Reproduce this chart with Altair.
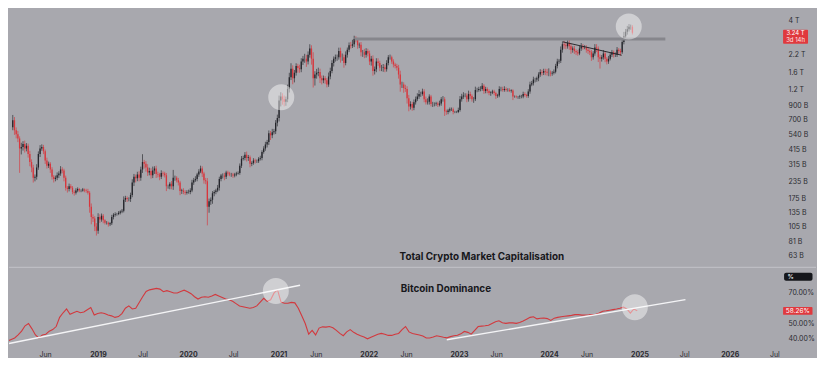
import altair as alt
import pandas as pd

# ---------------- data: Total crypto market cap, weekly candles (billions USD) ----------------
FIRST_OPEN = 610
CLOSE_2018 = [690, 580, 540, 500, 420, 430, 455, 420, 440, 380, 330, 300, 250,
              255, 300, 380, 420, 430, 400, 340, 310, 320, 290, 255, 245, 250,
              262, 270, 290, 285, 250, 210, 205, 215, 210, 195, 192, 200, 205,
              200, 200, 203, 200, 198, 192, 150, 125, 122, 106, 98, 125, 120]
CLOSE_2019 = [128, 118, 113, 113, 110, 112, 125, 130, 132, 132, 135, 138, 140,
              170, 175, 172, 172, 185, 230, 255, 248, 265, 250, 290, 330, 320,
              300, 275, 282, 262, 285, 295, 268, 265, 255, 272, 270, 262, 215,
              215, 225, 215, 250, 250, 240, 230, 198, 200, 195, 192, 195, 195]
CLOSE_2020 = [200, 230, 240, 245, 265, 280, 295, 270, 240, 235, 150, 165, 170,
              190, 195, 200, 210, 245, 260, 260, 255, 275, 270, 265, 265, 260,
              265, 270, 272, 310, 350, 355, 375, 355, 360, 320, 325, 340, 335,
              335, 350, 355, 395, 420, 450, 470, 550, 530, 560, 570, 660, 720]
CLOSE_2021 = [980, 1050, 1000, 960, 1000, 1200, 1480, 1720, 1450, 1600, 1800, 1740, 1700,
              1950, 2050, 2050, 1950, 2200, 2450, 2050, 1450, 1550, 1600, 1620, 1450, 1400,
              1450, 1400, 1300, 1500, 1650, 1900, 2050, 2100, 2100, 2350, 2100, 2100, 1900,
              2200, 2400, 2600, 2580, 2650, 2900, 2850, 2600, 2620, 2300, 2300, 2200, 2350]
CLOSE_2022 = [2250, 1950, 2050, 1650, 1700, 1950, 1900, 1750, 1750, 1760, 1700, 1900, 2100,
              2100, 1950, 1850, 1800, 1750, 1550, 1300, 1300, 1220, 1200, 1020, 880, 920,
              860, 950, 1000, 1050, 1100, 1100, 1150, 1000, 950, 960, 1050, 920, 920,
              920, 930, 910, 930, 1000, 1000, 810, 800, 820, 840, 840, 800, 800]
CLOSE_2023 = [800, 830, 1000, 1050, 1070, 1070, 1000, 1100, 1060, 1000, 1000, 1180, 1180,
              1200, 1200, 1270, 1160, 1200, 1160, 1120, 1130, 1150, 1120, 1060, 1070, 1200,
              1200, 1180, 1200, 1180, 1180, 1160, 1170, 1050, 1050, 1040, 1040, 1050, 1050,
              1100, 1080, 1060, 1150, 1300, 1330, 1420, 1420, 1450, 1550, 1620, 1600, 1650]
CLOSE_2024 = [1630, 1600, 1600, 1580, 1600, 1630, 1800, 1950, 1980, 2400, 2650, 2600, 2550,
              2700, 2550, 2400, 2450, 2350, 2300, 2250, 2450, 2550, 2500, 2500, 2400, 2350,
              2300, 2100, 2250, 2500, 2450, 2100, 2050, 2100, 2250, 2050, 1950, 2050, 2200,
              2300, 2200, 2200, 2400, 2350, 2300, 2750, 3050, 3300, 3450, 3600, 3600, 3240]

# upper / lower wick length, % beyond the candle body
HIGH_PCT = [10, 6, 5, 6, 4, 8, 5, 6, 5, 4, 6, 5, 5,
            4, 6, 5, 6, 5, 4, 3, 5, 4, 3, 4, 3, 4,
            5, 4, 6, 4, 3, 4, 3, 5, 4, 3, 3, 4, 3,
            2, 2, 3, 2, 3, 4, 3, 6, 5, 4, 6, 7, 5,
            4, 3, 2, 3, 2, 2, 4, 3, 3, 2, 3, 2, 3,
            6, 4, 3, 3, 4, 6, 5, 4, 5, 6, 5, 15, 4,
            5, 6, 6, 5, 7, 4, 5, 4, 3, 5, 3, 3, 4,
            3, 3, 5, 15, 4, 3, 4, 3, 3, 4, 3, 3, 4,
            4, 5, 4, 5, 3, 4, 5, 4, 3, 4, 6, 5, 4,
            4, 3, 3, 5, 4, 3, 4, 5, 3, 3, 3, 3, 3,
            3, 3, 3, 4, 5, 4, 5, 6, 4, 3, 3, 4, 3,
            3, 3, 4, 3, 4, 5, 4, 5, 4, 6, 4, 5, 6,
            9, 8, 6, 7, 5, 8, 8, 10, 6, 5, 5, 4, 6,
            6, 5, 9, 7, 6, 8, 6, 12, 6, 7, 8, 6, 5,
            5, 4, 4, 7, 6, 5, 4, 5, 5, 6, 6, 7, 5,
            6, 4, 5, 6, 8, 6, 5, 4, 4, 5, 4, 6, 5,
            4, 5, 5, 6, 5, 6, 6, 4, 5, 6, 5, 5, 4,
            5, 3, 4, 3, 4, 5, 7, 5, 4, 6, 5, 6, 5,
            4, 5, 5, 6, 7, 4, 5, 4, 5, 6, 4, 3, 4,
            3, 3, 3, 5, 4, 6, 4, 3, 3, 3, 3, 3, 2,
            2, 4, 6, 5, 6, 4, 4, 6, 4, 3, 4, 6, 4,
            4, 5, 5, 3, 4, 3, 3, 2, 3, 3, 2, 3, 5,
            4, 4, 5, 3, 3, 3, 2, 2, 2, 2, 2, 3, 3,
            4, 3, 2, 4, 5, 4, 5, 3, 3, 4, 5, 4, 4,
            4, 5, 8, 4, 3, 4, 4, 5, 3, 6, 5, 6, 4,
            5, 6, 5, 4, 5, 3, 4, 5, 6, 4, 4, 4, 5,
            3, 4, 4, 6, 6, 4, 5, 4, 6, 4, 3, 5, 4,
            4, 3, 4, 5, 3, 4, 7, 8, 5, 6, 5, 4, 3]
LOW_PCT = [5, 8, 7, 6, 35, 10, 6, 7, 5, 6, 7, 8, 8,
           6, 5, 4, 5, 4, 5, 6, 5, 4, 6, 5, 6, 4,
           4, 5, 4, 5, 6, 5, 6, 4, 3, 4, 5, 3, 3,
           3, 3, 2, 3, 3, 3, 10, 12, 6, 8, 8, 5, 6,
           4, 5, 3, 3, 4, 3, 3, 4, 3, 3, 2, 3, 3,
           3, 4, 5, 4, 5, 4, 6, 7, 5, 6, 5, 6, 8,
           7, 6, 5, 6, 5, 6, 7, 5, 6, 4, 5, 4, 8,
           4, 5, 5, 6, 5, 4, 5, 7, 5, 4, 4, 3, 3,
           4, 3, 4, 3, 4, 4, 3, 6, 6, 5, 28, 10, 6,
           7, 5, 4, 3, 5, 4, 5, 6, 4, 4, 3, 4, 4,
           3, 3, 2, 3, 4, 3, 4, 6, 5, 6, 4, 3, 4,
           3, 3, 3, 4, 3, 4, 5, 5, 8, 5, 4, 5, 6,
           6, 10, 9, 8, 7, 5, 6, 5, 10, 7, 5, 8, 6,
           5, 6, 7, 9, 5, 5, 10, 15, 12, 7, 6, 8, 7,
           5, 6, 5, 4, 5, 4, 6, 5, 6, 4, 9, 6, 8,
           4, 5, 4, 5, 4, 5, 4, 6, 5, 7, 8, 6, 5,
           5, 6, 7, 8, 6, 5, 5, 6, 6, 7, 5, 4, 4,
           4, 4, 5, 4, 5, 7, 12, 6, 8, 5, 9, 8, 5,
           5, 4, 4, 3, 4, 5, 3, 5, 4, 4, 5, 4, 5,
           4, 3, 4, 3, 4, 4, 8, 5, 4, 3, 3, 4, 2,
           2, 2, 3, 4, 4, 3, 5, 4, 5, 4, 6, 3, 4,
           3, 4, 3, 5, 4, 4, 4, 5, 3, 4, 5, 3, 3,
           4, 3, 3, 3, 3, 2, 3, 6, 2, 2, 3, 3, 3,
           3, 3, 3, 3, 4, 3, 4, 5, 4, 5, 4, 5, 4,
           6, 5, 6, 5, 4, 3, 3, 4, 4, 4, 5, 6, 5,
           4, 6, 7, 5, 5, 5, 4, 3, 4, 4, 3, 5, 5,
           5, 6, 4, 4, 6, 8, 16, 5, 4, 6, 5, 4, 3,
           4, 5, 4, 4, 5, 6, 3, 4, 4, 5, 4, 5, 3]

# ---------------- data: Bitcoin dominance (%), every two weeks ----------------
DOMINANCE = [38.5, 39.5, 40.5, 42.5, 45, 48.5, 50, 46.5, 42.5, 40.5,
             42.5, 43, 45, 46, 48, 54, 57, 59.5, 56, 57,
             58, 57, 57.5, 59, 60.5, 55.5, 56.5, 57, 56.5, 55.5,
             55, 54, 54.5, 56.5, 60, 61.5, 59.5, 60, 63.75, 67.5,
             71, 72, 72.5, 73, 72.5, 70.8, 71.5, 70.8, 70, 70,
             71, 71.8, 70.8, 69.5, 67.5, 66, 67.2, 67.5, 67.2, 68,
             69, 68, 67, 66, 65.5, 64.5, 63, 61.5, 61, 60.5,
             60, 60.5, 61.5, 64, 66.5, 64.5, 65.5, 70, 72, 64,
             63.2, 63.2, 63.8, 63.5, 60, 55, 50, 43, 45.5, 42.5,
             47, 47.8, 47.6, 48, 47.2, 45.5, 43.5, 42, 44.5, 46,
             44.2, 43, 42, 41.2, 40, 41, 42, 43, 43.5, 43,
             42.2, 42.2, 43, 43.5, 46, 48, 44.5, 43.5, 43, 42.5,
             41.8, 40.5, 40.5, 41.2, 42, 41.5, 41, 40.6, 41.4, 42,
             42.3, 43.2, 44.8, 44.2, 43, 45.5, 48, 48.3, 48.5, 48.8,
             50, 51.2, 51.8, 50.5, 50.1, 50.4, 50.4, 50.1, 50.6, 51.6,
             52.8, 54, 54.4, 53, 53.4, 53.6, 53.2, 52, 53.5, 54,
             54.4, 54.7, 55, 55.3, 55.8, 55.8, 55.5, 55.6, 55.7, 55.9,
             56, 56.8, 58, 58.3, 58.7, 59.1, 59.5, 60, 60.8, 59.5,
             56.8, 59.5, 58.26]

# annotations (dates, values)
ATH_LINE = {"date": ["2021-11-03", "2025-04-30"], "v": [2900, 2900]}
DESC_LINE = {"date": ["2024-03-06", "2024-11-02"], "v": [2760, 2180]}
TOP_CIRCLES = {"date": ["2021-01-06", "2024-12-01"], "v": [1038, 3615]}
DOM_TREND = {"date": ["2018-01-06", "2021-03-29", "2022-11-13", "2025-07-06"],
             "v": [36.9, 75.0, 39.4, 65.6], "seg": ["a", "a", "b", "b"]}
BOT_CIRCLES = {"date": ["2020-12-21", "2024-12-13"], "v": [71.25, 60.6]}

TOP_TICKS = [4000, 2200, 1600, 1200, 900, 700, 540, 415, 315, 235, 175, 135, 105, 81, 63]
BOT_TICKS = [40, 50, 70]   # the 60.00% tick sits under the last-value badge
X_TICKS = [(2018, 6), (2019, 1), (2019, 7), (2020, 1), (2020, 7), (2021, 1), (2021, 6),
           (2022, 1), (2022, 6), (2023, 1), (2023, 6), (2024, 1), (2024, 6), (2025, 1),
           (2025, 7), (2026, 1), (2026, 7)]

TITLE_TOP = "Total Crypto Market Capitalisation"
TITLE_BOT = "Bitcoin Dominance"
COUNTDOWN = "3d 14h"

# ---------------- build frames ----------------
CLOSE = CLOSE_2018 + CLOSE_2019 + CLOSE_2020 + CLOSE_2021 + CLOSE_2022 + CLOSE_2023 + CLOSE_2024
assert len(CLOSE) == 364 and len(HIGH_PCT) == 364 and len(LOW_PCT) == 364
OPEN = [FIRST_OPEN] + CLOSE[:-1]
dates = pd.date_range("2018-01-01", periods=len(CLOSE), freq="7D")
candles = pd.DataFrame({
    "date": dates,
    "open": OPEN,
    "close": CLOSE,
    "high": [max(o, c) * (1 + h / 100) for o, c, h in zip(OPEN, CLOSE, HIGH_PCT)],
    "low": [min(o, c) * (1 - l / 100) for o, c, l in zip(OPEN, CLOSE, LOW_PCT)],
    "dir": ["up" if c >= o else "down" for o, c in zip(OPEN, CLOSE)],
})
dom = pd.DataFrame({"date": pd.date_range("2018-01-01", periods=len(DOMINANCE), freq="14D"),
                    "v": DOMINANCE})
last_close = CLOSE[-1]
last_dom = DOMINANCE[-1]

# ---------------- style ----------------
BG = "#a8a8ae"
UP = "#24252b"
DOWN = "#d8363c"
TXT = "#2a2a2e"
FONT = "Inter"
W = 772
H_TOP, H_BOT = 259, 81

x_scale = alt.Scale(domain=[alt.DateTime(year=2018, month=1, date=6),
                            alt.DateTime(year=2026, month=7, date=20)])
x_axis = alt.Axis(values=[alt.DateTime(year=y, month=m, date=1) for y, m in X_TICKS],
                  labelExpr="month(datum.value) == 0 ? timeFormat(datum.value, '%Y') : timeFormat(datum.value, '%b')",
                  labelFontWeight={"condition": {"test": "month(datum.value) == 0", "value": "bold"}, "value": "normal"},
                  title=None, domain=False, ticks=False, grid=False, labelPadding=3,
                  labelFontSize=7, labelColor=TXT, labelFont=FONT, labelFlush=False, labelOverlap=False)
XT = alt.X("date:T", scale=x_scale, axis=None)
XB = alt.X("date:T", scale=x_scale, axis=x_axis)

top_scale = alt.Scale(type="log", domain=[51.95, 4980])
bot_scale = alt.Scale(domain=[34.23, 87.1])
top_axis = alt.Axis(orient="right", values=TOP_TICKS, title=None, domain=False, ticks=False, grid=False,
                    labelExpr="datum.value >= 1000 ? format(datum.value / 1000, '.2~f') + ' T' : format(datum.value, 'd') + ' B'",
                    labelPadding=9, labelFontSize=7, labelColor=TXT, labelFont=FONT, labelOverlap=False)
bot_axis = alt.Axis(orient="right", values=BOT_TICKS, title=None, domain=False, ticks=False, grid=False,
                    labelExpr="format(datum.value, '.2f') + '%'",
                    labelPadding=9, labelFontSize=7, labelColor=TXT, labelFont=FONT, labelOverlap=False)
YT = lambda f: alt.Y(f, scale=top_scale, axis=top_axis)
YB = lambda f: alt.Y(f, scale=bot_scale, axis=bot_axis)
col = alt.Color("dir:N", scale=alt.Scale(domain=["up", "down"], range=[UP, DOWN]), legend=None)

one = pd.DataFrame({"k": [0]})

# ---------------- top panel ----------------
wicks = alt.Chart(candles).mark_rule(strokeWidth=0.8, opacity=0.8, clip=True).encode(
    x=XT, y=YT("low:Q"), y2="high:Q", color=col)
bodies = alt.Chart(candles).mark_bar(width=1.3, clip=True).encode(
    x=XT, y=YT("open:Q"), y2="close:Q", color=col)
ath = alt.Chart(pd.DataFrame(ATH_LINE)).mark_line(color="#86868c", strokeWidth=3, clip=True).encode(
    x=XT, y=YT("v:Q"))
desc = alt.Chart(pd.DataFrame(DESC_LINE)).mark_line(color="#1d1d22", strokeWidth=0.9, clip=True).encode(
    x=XT, y=YT("v:Q"))
tcirc = alt.Chart(pd.DataFrame(TOP_CIRCLES)).mark_circle(size=680, color="white", opacity=0.45).encode(
    x=XT, y=YT("v:Q"))
ttitle = alt.Chart(pd.DataFrame({"t": [TITLE_TOP]})).mark_text(
    font=FONT, fontSize=9.9, fontWeight="bold", color="#17171b", align="center", baseline="middle").encode(
    text="t:N", x=alt.value(474), y=alt.value(249))
pbox = alt.Chart(one).mark_rect(color="#e0393e", cornerRadius=1).encode(
    x=alt.value(776), x2=alt.value(801), y=alt.value(21.4), y2=alt.value(35.3))
ptxt = alt.Chart(pd.DataFrame({"t": [f"{last_close / 1000:.2f} T"], "v": [last_close]})).mark_text(
    font=FONT, fontSize=6, color="white", align="center", baseline="middle").encode(
    text="t:N", x=alt.value(788.5), y=YT("v:Q"))
ctxt = alt.Chart(pd.DataFrame({"t": [COUNTDOWN]})).mark_text(
    font=FONT, fontSize=6, color="#fde5e5", align="center", baseline="middle").encode(
    text="t:N", x=alt.value(788.5), y=alt.value(31.4))

top = alt.layer(wicks, bodies, ath, desc, tcirc, ttitle, pbox, ptxt, ctxt).properties(
    width=W, height=H_TOP)

# ---------------- bottom panel ----------------
sep = alt.Chart(one).mark_rule(color="#c3c3c9", strokeWidth=1).encode(
    x=alt.value(0), x2=alt.value(809), y=alt.value(0.5))
domline = alt.Chart(dom).mark_line(color="#d2393e", strokeWidth=1.1, clip=True).encode(
    x=XB, y=YB("v:Q"))
trend = alt.Chart(pd.DataFrame(DOM_TREND)).mark_line(color="#f4f4f6", strokeWidth=1.4, clip=True).encode(
    x=XB, y=YB("v:Q"), detail="seg:N")
bcirc = alt.Chart(pd.DataFrame(BOT_CIRCLES)).mark_circle(size=680, color="white", opacity=0.45).encode(
    x=XB, y=YB("v:Q"))
btitle = alt.Chart(pd.DataFrame({"t": [TITLE_BOT]})).mark_text(
    font=FONT, fontSize=9.9, fontWeight="bold", color="#17171b", align="center", baseline="middle").encode(
    text="t:N", x=alt.value(438), y=alt.value(22.5))
pctbox = alt.Chart(one).mark_rect(color="#15161b", cornerRadius=2).encode(
    x=alt.value(777), x2=alt.value(805.5), y=alt.value(6), y2=alt.value(14))
pcttxt = alt.Chart(pd.DataFrame({"t": ["%"]})).mark_text(
    font=FONT, fontSize=6.5, color="white", align="left", baseline="middle").encode(
    text="t:N", x=alt.value(780.5), y=alt.value(10))
dbox = alt.Chart(one).mark_rect(color="#e0393e", cornerRadius=1).encode(
    x=alt.value(776), x2=alt.value(805.5), y=alt.value(40.2), y2=alt.value(48.2))
dtxt = alt.Chart(pd.DataFrame({"t": [f"{last_dom:.2f}%"], "v": [last_dom]})).mark_text(
    font=FONT, fontSize=6.5, color="white", align="center", baseline="middle").encode(
    text="t:N", x=alt.value(790.8), y=YB("v:Q"))

bottom = alt.layer(sep, domline, trend, bcirc, btitle, pctbox, pcttxt, dbox, dtxt).properties(
    width=W, height=H_BOT)

chart = alt.vconcat(top, bottom, spacing=0).properties(
    background=BG, padding=0
).configure_view(stroke=None)

chart.save("out.html", embed_options={"renderer": "svg", "actions": False})
